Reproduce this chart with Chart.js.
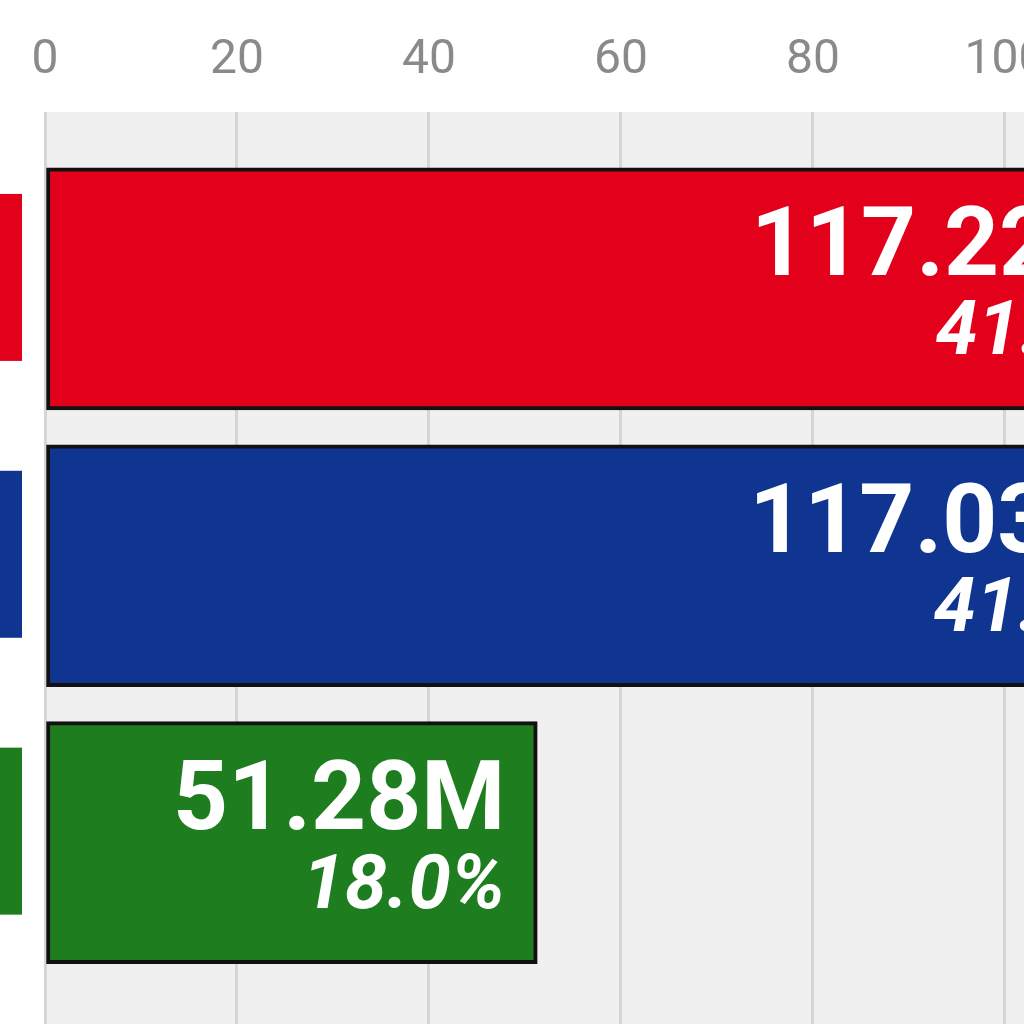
<!DOCTYPE html>
<html>
<head>
<meta charset="utf-8">
<script src="https://cdn.jsdelivr.net/npm/chart.js@4"></script>
<style>
  html, body { margin: 0; padding: 0; overflow: hidden; background: #fff; }
  #wrap { position: absolute; left: 0; top: 0; width: 1260px; height: 1024px; }
</style>
</head>
<body>
<div id="wrap"><canvas id="c" width="1260" height="1024"></canvas></div>
<script>
// data
const parties = ['Party A', 'Party B', 'Party C'];
const votesM = [117.22, 117.03, 51.28];
const shares = ['41.1%', '41.0%', '18.0%'];
const barColors = ['#e3001b', '#0f3591', '#1e7d1e'];
const xTicks = [0, 20, 40, 60, 80, 100, 120];

const points = votesM.map((v, i) => ({ x: v, y: i }));

// grey plot background + left logo boxes + bar labels
const decor = {
    id: 'decor',
    beforeDraw(chart) {
        const { ctx, chartArea } = chart;
        ctx.save();
        ctx.fillStyle = '#f0f0f0';
        ctx.fillRect(chartArea.left, chartArea.top, chartArea.right - chartArea.left, chartArea.bottom - chartArea.top);
        ctx.restore();
    },
    afterDatasetsDraw(chart) {
        const { ctx } = chart;
        const yScale = chart.scales.y;
        const meta = chart.getDatasetMeta(0);
        ctx.save();
        meta.data.forEach((bar, i) => {
            const cy = yScale.getPixelForValue(i);
            // logo box at the left edge
            ctx.fillStyle = barColors[i];
            ctx.fillRect(0, cy - 95, 22, 167);
            // labels inside bar
            ctx.fillStyle = '#fff';
            ctx.textAlign = 'right';
            ctx.textBaseline = 'middle';
            ctx.font = 'bold 96px Roboto';
            ctx.fillText(votesM[i].toFixed(2) + 'M', bar.x - 32, cy - 38);
            ctx.font = 'italic bold 76px Roboto';
            ctx.fillText(shares[i], bar.x - 32, cy + 46);
        });
        ctx.restore();
    }
};

const ctx = document.getElementById('c').getContext('2d');
new Chart(ctx, {
    type: 'bar',
    data: {
        datasets: [{
            data: points,
            backgroundColor: barColors,
            borderColor: '#111',
            borderWidth: 4,
            borderSkipped: false,
            barThickness: 242
        }]
    },
    options: {
        indexAxis: 'y',
        responsive: false,
        animation: false,
        layout: { padding: { left: 45, right: 15, top: 0, bottom: 0 } },
        scales: {
            x: {
                type: 'linear',
                position: 'top',
                min: 0,
                max: 125,
                afterFit(scale) { scale.height = 112; },
                afterBuildTicks(scale) { scale.ticks = xTicks.map(v => ({ value: v })); },
                ticks: { color: '#8a8a8a', font: { size: 48, family: 'Roboto' }, padding: 22 },
                grid: { color: '#d6d6d6', lineWidth: 3, drawTicks: false },
                border: { display: false }
            },
            y: {
                type: 'linear',
                reverse: true,
                bounds: 'data',
                afterDataLimits(scale) { scale.min = -0.639; scale.max = 2.655; },
                afterBuildTicks(scale) { scale.ticks = []; },
                display: false
            }
        },
        plugins: { legend: { display: false }, tooltip: { enabled: false } }
    },
    plugins: [decor]
});
</script>
</body>
</html>
